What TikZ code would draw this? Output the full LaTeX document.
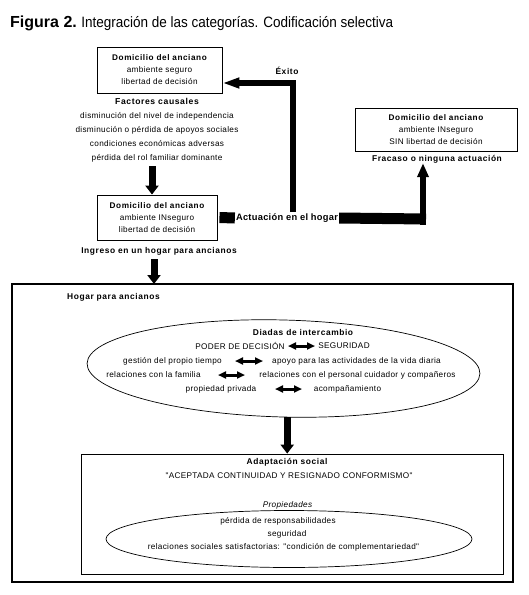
\documentclass[tikz,border=0pt]{standalone}
\usepackage{fontspec}
\usetikzlibrary{arrows.meta,shapes.geometric}
\newfontfamily\ff{Liberation Sans}[LetterSpace=4]
\newfontfamily\ffb{Liberation Sans}[LetterSpace=7]
\newfontfamily\ffa{Liberation Sans}[LetterSpace=3]
\newfontfamily\ttbf{Liberation Sans}
\newfontfamily\ttreg{Liberation Sans}[FakeStretch=0.9]
\tikzset{
  x=1pt,y=1pt,
  txt/.style={font=\ff\fontsize{8.2}{12}\selectfont, inner sep=0pt, align=center},
  btxt/.style={font=\ffb\bfseries\fontsize{8.4}{12}\selectfont, inner sep=0pt, align=center},
  box/.style={draw, line width=0.9pt, inner sep=0pt, align=center,
    font=\ff\fontsize{8.2}{12}\selectfont},
  ell/.style={draw, ellipse, line width=0.7pt, inner sep=0pt},
  bigarrow/.style={line width=7pt, -{Triangle[width=13pt,length=9pt]}},
  exarrow/.style={line width=6pt, -{Triangle[width=10pt,length=17pt]}},
  uparrow/.style={line width=6pt, -{Triangle[width=11pt,length=14pt]}},
  bar/.style={line width=11pt},
  dbl/.style={line width=3pt, {Triangle[width=7pt,length=8pt]}-{Triangle[width=7pt,length=8pt]}}
}
\begin{document}
\begin{tikzpicture}
\useasboundingbox (0,0) rectangle (529,-595);

% title
\node[anchor=base west, inner sep=0pt] (title) at (10,-27)
  {\ttbf\bfseries\fontsize{16}{18}\selectfont Figura 2.\ \ttreg\mdseries\fontsize{15}{18}\selectfont Integración de las categorías. Codificación selectiva};

% box 1
\node[box, minimum width=125, minimum height=46] (b1) at (159.5,-70)
  {{\ffb\bfseries Domicilio del anciano}\\ambiente seguro\\libertad de decisión};

% factores causales
\node[txt, font=\ff\fontsize{8.2}{14}\selectfont] (fc) at (157,-130)
  {{\ffb\bfseries\fontsize{8.6}{14}\selectfont Factores causales}\\
   disminución del nivel de independencia\\
   disminución o pérdida de apoyos sociales\\
   condiciones económicas adversas\\
   pérdida del rol familiar dominante};

% box 2
\node[box, minimum width=120, minimum height=45] (b2) at (157,-217.5)
  {{\ffb\bfseries Domicilio del anciano}\\ambiente INseguro\\libertad de decisión};
\node[btxt] (ing) at (159,-251) {Ingreso en un hogar para ancianos};

% box 3
\node[box, minimum width=162, minimum height=43] (b3) at (436,-129.5)
  {{\ffb\bfseries Domicilio del anciano}\\ambiente INseguro\\SIN libertad de decisión};
\node[btxt] (fr) at (437,-159) {Fracaso o ninguna actuación};

% actuacion
\node[font=\ffa\bfseries\fontsize{9.3}{12}\selectfont, inner sep=0pt] (act) at (287,-218) {Actuación en el hogar};
\node[btxt] (ex) at (287,-71) {Éxito};

% connectors upper part
\draw[bigarrow] ([xshift=-5pt,yshift=-4pt]fc.south) -- ([xshift=-5pt]fc.south |- b2.north);
\draw[bigarrow] ([xshift=-5pt,yshift=-4pt]ing.south) -- ([xshift=-5pt]ing.south |- 0,-284);
\draw[bar] ([xshift=2pt]b2.east) -- ([xshift=-1pt]act.west);
\coordinate (c2) at (423,-219);
\coordinate (c1) at (292.5,-83);
\draw[bar] ([xshift=1pt]act.east) -- ([xshift=3pt]c2);
\draw[uparrow] ([yshift=-5.5pt]c2) -- (c2 |- fr.south);
\draw[exarrow] ([yshift=1.5pt]act.north -| c1) -- (c1) -- (c1 -| b1.east);

% big box
\node[draw, line width=1.1pt, minimum width=501, minimum height=298, inner sep=0pt] (hb) at (262.5,-433) {};
\node[btxt, anchor=west] (hog) at (67,-297) {Hogar para ancianos};

% ellipse 1
\node[ell, minimum width=393, minimum height=97, rotate=-1.5] (e1) at (283.5,-368.5) {};
\node[btxt] (dia) at (303,-332) {Diadas de intercambio};
\node[txt] (l1) at (240,-346) {PODER DE DECISIÓN};
\node[txt] (r1) at (344,-346) {SEGURIDAD};
\node[txt] (l2) at (172.5,-361) {gestión del propio tiempo};
\node[txt] (r2) at (356.5,-361) {apoyo para las actividades de la vida diaria};
\node[txt] (l3) at (153.5,-375) {relaciones con la familia};
\node[txt] (r3) at (357.5,-375) {relaciones con el personal cuidador y compañeros};
\node[txt] (l4) at (221,-389) {propiedad privada};
\node[txt] (r4) at (347.5,-389) {acompañamiento};
\coordinate (a1l) at (288,-346); \coordinate (a1r) at (315,-346);
\coordinate (a2l) at (235,-361); \coordinate (a2r) at (263,-361);
\coordinate (a3l) at (218,-375); \coordinate (a3r) at (245,-375);
\coordinate (a4l) at (275,-389); \coordinate (a4r) at (302,-389);
\draw[dbl] (a1l) -- (a1r);
\draw[dbl] (a2l) -- (a2r);
\draw[dbl] (a3l) -- (a3r);
\draw[dbl] (a4l) -- (a4r);

% adaptacion box
\node[draw, line width=0.8pt, minimum width=422, minimum height=120, inner sep=0pt] (ad) at (292,-514) {};
\draw[bigarrow] ([xshift=5pt]e1.south) -- ([xshift=5pt]e1.south |- ad.north);
\node[btxt] (as) at (287,-462) {Adaptación social};
\node[txt] (q) at (289,-476) {"ACEPTADA CONTINUIDAD Y RESIGNADO CONFORMISMO"};
\node[txt, font=\ff\itshape\fontsize{8.2}{12}\selectfont] (pr) at (287.5,-505) {Propiedades};

% ellipse 2
\node[ell, minimum width=366, minimum height=57] (e2) at (289,-539) {};
\node[txt] (p1) at (278,-521) {pérdida de responsabilidades};
\node[txt] (p2) at (287,-534) {seguridad};
\node[txt] (p3) at (283.5,-547) {relaciones sociales satisfactorias: "condición de complementariedad"};
\end{tikzpicture}
\end{document}
